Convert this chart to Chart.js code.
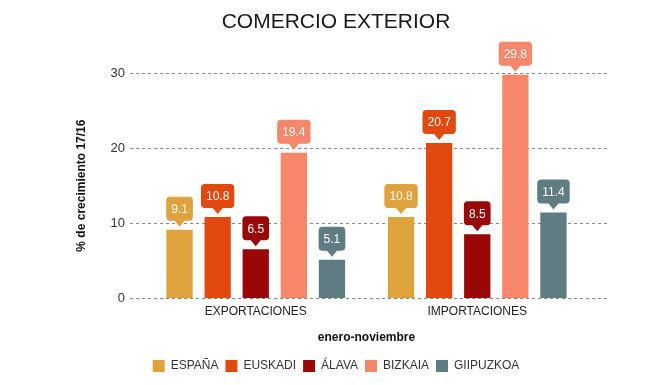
<!DOCTYPE html>
<html>
<head>
<meta charset="utf-8">
<script src="https://cdn.jsdelivr.net/npm/chart.js@4.4.1/dist/chart.umd.min.js"></script>
<style>
  html, body { margin: 0; padding: 0; background: #fff; }
  #wrap { width: 672px; height: 385px; position: relative; }
</style>
</head>
<body>
<div id="wrap"><canvas id="comercio"></canvas></div>
<script>
const categories = ["EXPORTACIONES", "IMPORTACIONES"];
const seriesNames = ["ESPAÑA", "EUSKADI", "ÁLAVA", "BIZKAIA", "GIIPUZKOA"];
const espana = [9.1, 10.8];
const euskadi = [10.8, 20.7];
const alava = [6.5, 8.5];
const bizkaia = [19.4, 29.8];
const gipuzkoa = [5.1, 11.4];
const yTicks = [0, 10, 20, 30];

const colors = ["#E0A23C", "#E2490F", "#990707", "#F7866B", "#5F7C83"];
const FONT = "'Liberation Sans', Arial, Helvetica, sans-serif";

// dashed gridlines that run a little past the plot area, like the original
const gridPlugin = {
  id: "dashed-grid",
  beforeDatasetsDraw(chart) {
    const { ctx, chartArea, scales } = chart;
    ctx.save();
    ctx.strokeStyle = "#8a8a8a";
    ctx.lineWidth = 1;
    ctx.setLineDash([3, 3]);
    yTicks.forEach(v => {
      const y = Math.round(scales.y.getPixelForValue(v)) + 0.5;
      ctx.beginPath();
      ctx.moveTo(chartArea.left - 15, y);
      ctx.lineTo(chartArea.right + 19, y);
      ctx.stroke();
    });
    ctx.restore();
  },
};

// callout bubbles over each bar
const bubblePlugin = {
  id: "bubbles",
  afterDatasetsDraw(chart) {
    const { ctx } = chart;
    ctx.save();
    ctx.font = "12px " + FONT;
    ctx.textAlign = "center";
    ctx.textBaseline = "middle";
    chart.data.datasets.forEach((ds, i) => {
      chart.getDatasetMeta(i).data.forEach((bar, j) => {
        const label = ds.data[j].toFixed(1);
        const w = ctx.measureText(label).width + 10;
        const h = 24, r = 4;
        const tip = bar.y - 3;
        const bottom = tip - 6;
        const top = bottom - h;
        const left = bar.x - w / 2, right = bar.x + w / 2;
        ctx.fillStyle = ds.backgroundColor;
        ctx.beginPath();
        ctx.moveTo(left + r, top);
        ctx.lineTo(right - r, top);
        ctx.quadraticCurveTo(right, top, right, top + r);
        ctx.lineTo(right, bottom - r);
        ctx.quadraticCurveTo(right, bottom, right - r, bottom);
        ctx.lineTo(bar.x + 5, bottom);
        ctx.lineTo(bar.x, tip);
        ctx.lineTo(bar.x - 5, bottom);
        ctx.lineTo(left + r, bottom);
        ctx.quadraticCurveTo(left, bottom, left, bottom - r);
        ctx.lineTo(left, top + r);
        ctx.quadraticCurveTo(left, top, left + r, top);
        ctx.closePath();
        ctx.fill();
        ctx.fillStyle = "#fff";
        ctx.fillText(label, bar.x, top + h / 2 + 1);
      });
    });
    ctx.restore();
  },
};

const seriesData = [espana, euskadi, alava, bizkaia, gipuzkoa];

new Chart(document.getElementById("comercio"), {
  type: "bar",
  data: {
    labels: categories,
    datasets: seriesData.map((d, i) => ({
      label: seriesNames[i],
      data: d,
      backgroundColor: colors[i],
      borderWidth: 0,
      categoryPercentage: 0.86,
      barPercentage: 0.69,
    })),
  },
  options: {
    responsive: true,
    maintainAspectRatio: false,
    animation: false,
    layout: { padding: { left: 0, right: 0, top: 0, bottom: 3 } },
    plugins: {
      tooltip: { enabled: false },
      title: {
        display: true,
        text: "COMERCIO EXTERIOR",
        color: "#1a1a1a",
        font: { family: FONT, size: 21, weight: "normal" },
        padding: { top: 10, bottom: 38 },
      },
      legend: {
        position: "bottom",
        labels: {
          boxWidth: 12,
          boxHeight: 12,
          padding: 7,
          color: "#333",
          font: { family: FONT, size: 12 },
        },
      },
    },
    scales: {
      x: {
        grid: { display: false, drawTicks: false },
        border: { display: false },
        ticks: { color: "#222", padding: 6, font: { family: FONT, size: 12 } },
        title: {
          display: true,
          text: "enero-noviembre",
          color: "#111",
          font: { family: FONT, size: 12, weight: "bold" },
          padding: { top: 0, bottom: 8 },
        },
        afterFit(scale) { scale.height = 55; },
      },
      y: {
        min: 0,
        max: 30,
        grid: { display: false, drawTicks: false },
        border: { display: false },
        afterBuildTicks(scale) { scale.ticks = yTicks.map(v => ({ value: v })); },
        ticks: { color: "#333", padding: 20, font: { family: FONT, size: 13 } },
        title: {
          display: true,
          text: "% de crecimiento 17/16",
          color: "#111",
          font: { family: FONT, size: 12, weight: "bold" },
          padding: { top: 74, bottom: 0 },
        },
        afterFit(scale) { scale.width = 145; },
      },
      yr: {
        position: "right",
        display: true,
        grid: { display: false, drawTicks: false },
        border: { display: false },
        ticks: { display: false },
        afterFit(scale) { scale.width = 84; },
      },
    },
  },
  plugins: [gridPlugin, bubblePlugin],
});
</script>
</body>
</html>
